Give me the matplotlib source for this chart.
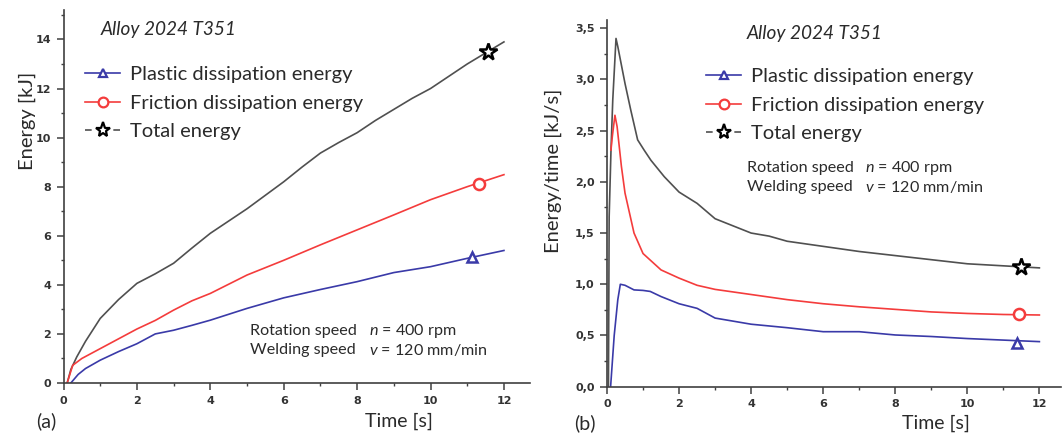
import matplotlib
matplotlib.use("Agg")
import matplotlib.pyplot as plt
from matplotlib.lines import Line2D
from matplotlib.ticker import MultipleLocator, FuncFormatter

plt.rcParams['font.family'] = ['Lato', 'DejaVu Sans']
plt.rcParams['mathtext.fontset'] = 'custom'
plt.rcParams['mathtext.it'] = 'Lato:italic'
plt.rcParams['mathtext.rm'] = 'Lato'

# ---------------- data: (a) cumulative energy ----------------
tot_a_t = [0.1, 0.2, 0.36, 0.6, 1, 1.5, 2, 2.5, 3, 3.5, 4, 4.5, 5, 5.5, 6, 6.5, 7,
           7.5, 8, 8.5, 9, 9.5, 10, 10.5, 11, 11.5, 12]
tot_a_e = [0, 0.55, 1.06, 1.7, 2.63, 3.4, 4.06, 4.45, 4.88, 5.5, 6.1, 6.6, 7.1, 7.65,
           8.2, 8.8, 9.37, 9.8, 10.2, 10.7, 11.15, 11.6, 12.0, 12.5, 13.0, 13.45, 13.9]
fri_a_t = [0.1, 0.25, 0.5, 1, 1.5, 2, 2.5, 3, 3.5, 4, 5, 6, 7, 8, 9, 10, 11, 12]
fri_a_e = [0, 0.72, 1.0, 1.4, 1.8, 2.2, 2.55, 2.97, 3.35, 3.65, 4.4, 5.0, 5.63, 6.24,
           6.85, 7.47, 8.0, 8.49]
pla_a_t = [0.2, 0.4, 0.6, 1, 1.5, 2, 2.5, 3, 3.5, 4, 5, 6, 7, 8, 9, 10, 11, 12]
pla_a_e = [0, 0.35, 0.59, 0.93, 1.28, 1.6, 2.0, 2.15, 2.35, 2.56, 3.04, 3.47, 3.81,
           4.13, 4.5, 4.74, 5.08, 5.4]
mark_a_t = [11.14, 11.33, 11.57]   # plastic, friction, total
mark_a_e = [5.15, 8.1, 13.5]

# ---------------- data: (b) energy rate ----------------
tot_b_t = [0.04, 0.06, 0.11, 0.16, 0.25, 0.3, 0.5, 0.66, 0.85, 1.03, 1.22, 1.59, 2,
           2.5, 3, 3.5, 4, 4.5, 5, 6, 7, 8, 9, 10, 11, 12]
tot_b_r = [0, 1.66, 2.3, 2.8, 3.4, 3.32, 2.96, 2.7, 2.41, 2.31, 2.21, 2.05, 1.9,
           1.79, 1.64, 1.57, 1.5, 1.47, 1.42, 1.37, 1.32, 1.28, 1.24, 1.2, 1.18, 1.16]
fri_b_t = [0.11, 0.15, 0.22, 0.28, 0.4, 0.5, 0.75, 1, 1.5, 2, 2.5, 3, 4, 5, 6, 7, 8,
           9, 10, 11, 12]
fri_b_r = [2.31, 2.45, 2.65, 2.54, 2.15, 1.89, 1.5, 1.3, 1.14, 1.06, 0.99, 0.95, 0.9,
           0.85, 0.81, 0.78, 0.755, 0.73, 0.715, 0.705, 0.70]
pla_b_t = [0.1, 0.2, 0.3, 0.37, 0.5, 0.75, 1, 1.2, 1.5, 2, 2.5, 3, 4, 5, 6, 7, 8, 9,
           10, 11, 12]
pla_b_r = [0, 0.5, 0.85, 1.0, 0.99, 0.945, 0.94, 0.93, 0.88, 0.81, 0.765, 0.67, 0.61,
           0.576, 0.537, 0.537, 0.505, 0.49, 0.47, 0.455, 0.44]
mark_b_t = [11.38, 11.43, 11.49]
mark_b_r = [0.43, 0.71, 1.17]

labels = ['Plastic dissipation energy', 'Friction dissipation energy', 'Total energy']
title = 'Alloy 2024 T351'
x_ticks = [0, 2, 4, 6, 8, 10, 12]

BLUE = '#3a3aa8'
RED = '#f43c3c'
GRAY = '#505050'
TXT = '#2a2a2a'
AX = '#404040'

W, H = 1063, 437
fig = plt.figure(figsize=(W / 100, H / 100), dpi=100)

def px_ax(x0, x1, y0, y1):
    return fig.add_axes([x0 / W, 1 - y1 / H, (x1 - x0) / W, (y1 - y0) / H])

axA = px_ax(63.5, 530, 10, 383)
axB = px_ax(607, 1061, 20, 386.7)

def style(ax, xmax, ymax, ymaj, ymin, fmt=None):
    ax.set_xlim(0, xmax)
    ax.set_ylim(0, ymax)
    for s in ['top', 'right']:
        ax.spines[s].set_visible(False)
    for s in ['left', 'bottom']:
        ax.spines[s].set_color(AX)
        ax.spines[s].set_linewidth(1.2)
    ax.set_xticks(x_ticks)
    ax.xaxis.set_minor_locator(MultipleLocator(1))
    ax.yaxis.set_major_locator(MultipleLocator(ymaj))
    ax.yaxis.set_minor_locator(MultipleLocator(ymin))
    if fmt:
        ax.yaxis.set_major_formatter(FuncFormatter(fmt))
    ax.tick_params(which='major', direction='out', length=5, width=1.1, color=AX,
                   labelsize=8, labelcolor='#333333', pad=4)
    ax.tick_params(which='minor', direction='out', length=2.5, width=1.0, color=AX)
    for lab in ax.get_xticklabels() + ax.get_yticklabels():
        lab.set_fontweight('bold')
        lab.set_family('DejaVu Sans')

style(axA, 12.71, 15.2, 2, 1)
style(axB, 12.6, 3.58, 0.5, 0.25, lambda v, p: f'{v:.1f}'.replace('.', ','))

lw = 1.2
mk = dict(markerfacecolor='white', markeredgewidth=1.8, linestyle='none', zorder=5)

axA.plot(tot_a_t, tot_a_e, color=GRAY, lw=lw)
axA.plot(fri_a_t, fri_a_e, color=RED, lw=lw)
axA.plot(pla_a_t, pla_a_e, color=BLUE, lw=lw)
axA.plot(mark_a_t[0], mark_a_e[0], marker='^', ms=7, markeredgecolor=BLUE, **mk)
axA.plot(mark_a_t[1], mark_a_e[1], marker='o', ms=8, markeredgecolor=RED, **mk)
axA.plot(mark_a_t[2], mark_a_e[2], marker='*', ms=13, markeredgecolor='black', **mk)

axB.plot(tot_b_t, tot_b_r, color=GRAY, lw=lw)
axB.plot(fri_b_t, fri_b_r, color=RED, lw=lw)
axB.plot(pla_b_t, pla_b_r, color=BLUE, lw=lw)
axB.plot(mark_b_t[0], mark_b_r[0], marker='^', ms=7, markeredgecolor=BLUE, **mk)
axB.plot(mark_b_t[1], mark_b_r[1], marker='o', ms=8, markeredgecolor=RED, **mk)
axB.plot(mark_b_t[2], mark_b_r[2], marker='*', ms=13, markeredgecolor='black', **mk)

def handles():
    return [
        Line2D([], [], color=BLUE, lw=lw, marker='^', ms=6, mfc='white', mec=BLUE, mew=1.6),
        Line2D([], [], color=RED, lw=lw, marker='o', ms=7, mfc='white', mec=RED, mew=1.6),
        Line2D([], [], color=GRAY, lw=lw, ls=(0, (4, 13)), marker='*', ms=11, mfc='white',
               mec='black', mew=1.6),
    ]

def fx(p):
    return p / W

def fy(p):
    return 1 - p / H

leg_kw = dict(loc='upper left', frameon=False, fontsize=14.5, handlelength=1.75,
              handletextpad=0.5, labelspacing=0.57, borderpad=0, borderaxespad=0,
              labelcolor=TXT)
fig.legend(handles(), labels, bbox_to_anchor=(fx(85), fy(66)), **leg_kw)
fig.legend(handles(), labels, bbox_to_anchor=(fx(706), fy(68)), **leg_kw)

# titles
fig.text(fx(101), fy(30), title, fontsize=13.7, style='italic', color=TXT,
         ha='left', va='center')
fig.text(fx(747), fy(33), title, fontsize=13.7, style='italic', color=TXT,
         ha='left', va='center')

# process parameters
for (x1, x2, y1, y2) in [(250, 369, 331, 350), (747, 865, 168, 187)]:
    fig.text(fx(x1), fy(y1), 'Rotation speed', fontsize=11.6, color=TXT, ha='left', va='center')
    fig.text(fx(x2), fy(y1), r'$n$ = 400 rpm', fontsize=11.6, color=TXT, ha='left', va='center')
    fig.text(fx(x1), fy(y2), 'Welding speed', fontsize=11.6, color=TXT, ha='left', va='center')
    fig.text(fx(x2), fy(y2), r'$v$ = 120 mm/min', fontsize=11.6, color=TXT, ha='left', va='center')

# axis labels
fig.text(fx(27), fy(121), 'Energy [kJ]', fontsize=14.5, color=TXT, rotation=90,
         ha='center', va='center')
fig.text(fx(553), fy(171), 'Energy/time [kJ/s]', fontsize=14.5, color=TXT, rotation=90,
         ha='center', va='center')
fig.text(fx(399), fy(421), 'Time [s]', fontsize=14, color=TXT, ha='center', va='center')
fig.text(fx(936), fy(423), 'Time [s]', fontsize=14, color=TXT, ha='center', va='center')
fig.text(fx(46), fy(421), '(a)', fontsize=14, color=TXT, ha='center', va='center')
fig.text(fx(585), fy(423), '(b)', fontsize=14, color=TXT, ha='center', va='center')

fig.savefig('out.png', dpi=100, facecolor='white')
